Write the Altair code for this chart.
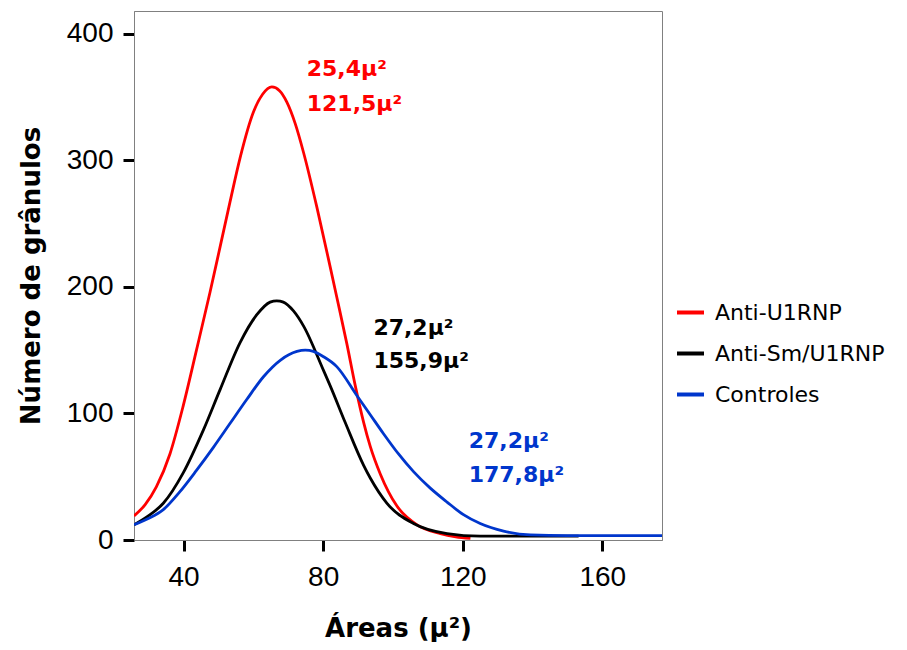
import altair as alt
import pandas as pd

series_names = ["Anti-U1RNP", "Anti-Sm/U1RNP", "Controles"]
series_colors = ["#ff0000", "#000000", "#0036cc"]

red_x = [25.8, 29.0, 32.2, 36.1, 39.9, 43.7, 47.6, 50.5, 53.3, 56.2, 60.0, 62.6, 65.3, 67.5, 69.6,
         72.0, 74.4, 78.2, 82.0, 83.9, 86.8, 89.2, 91.6, 93.5, 96.4, 101.1, 106.9, 113.6, 118.0, 122.2]
red_y = [19, 28, 42, 68, 106, 150, 196, 232, 267, 302, 338, 352, 358, 355, 346,
         329, 306, 263, 216, 192, 155, 122, 93, 74, 52, 27, 12, 5, 2.5, 1.3]

black_x = [25.8, 29.9, 34.2, 39.9, 45.7, 50.5, 56.2, 61.0, 64.8, 66.7, 68.6, 71.5, 74.4, 80.1, 82.0,
           86.3, 91.6, 93.5, 98.3, 105.9, 115.5, 125.0, 135.0, 145.0, 153.2]
black_y = [12, 19, 29, 53, 87, 119, 156, 178, 188, 189, 188, 181, 169, 134, 122,
           93, 59, 49, 29, 13, 5, 3, 3, 3, 3]

blue_x = [25.8, 29.9, 34.2, 38.9, 43.7, 48.5, 53.3, 58.1, 62.9, 67.7, 72.5, 74.9, 77.2, 80.0, 83.9,
          89.7, 93.5, 97.3, 101.6, 105.9, 110.7, 115.5, 120.2, 125.0, 131.7, 139.4, 150.0, 160.0, 170.0, 177.1]
blue_y = [12, 17, 24, 38, 55, 73, 92, 111, 129, 142, 149, 150, 149, 145, 137,
          114, 99, 84, 68, 54, 41, 30, 20, 13, 7, 4, 3.5, 3.5, 3.5, 3.5]

ann_text = ["25,4μ²", "121,5μ²", "27,2μ²", "155,9μ²", "27,2μ²", "177,8μ²"]
ann_x = [75.3, 75.3, 94.4, 94.4, 121.7, 121.7]
ann_y = [366.5, 338.8, 162.2, 135.8, 72.5, 46.1]
ann_series = ["Anti-U1RNP", "Anti-U1RNP", "Anti-Sm/U1RNP", "Anti-Sm/U1RNP", "Controles", "Controles"]

x_ticks = [40, 80, 120, 160]
y_ticks = [0, 100, 200, 300, 400]
x_domain = [25.8, 177.1]
y_domain = [0, 418]

rows = []
for name, xs, ys in zip(series_names, [red_x, black_x, blue_x], [red_y, black_y, blue_y]):
    for i, (xv, yv) in enumerate(zip(xs, ys)):
        rows.append({"serie": name, "area": xv, "n": yv, "ord": i})
df = pd.DataFrame(rows)
ann = pd.DataFrame({"t": ann_text, "x": ann_x, "y": ann_y, "serie": ann_series})

color_scale = alt.Scale(domain=series_names, range=series_colors)
x_scale = alt.Scale(domain=x_domain, nice=False, zero=False)
y_scale = alt.Scale(domain=y_domain, nice=False)

x_axis = alt.Axis(values=x_ticks, tickSize=11, tickWidth=3, tickColor="black",
                  domainColor="#808080", domainWidth=1, grid=False,
                  labelFont="Liberation Sans", labelFontSize=28, labelColor="black",
                  labelPadding=12, labelFlush=False,
                  title="Áreas (μ²)", titleFont="DejaVu Sans", titleFontSize=26,
                  titleFontWeight="bold", titleColor="black", titlePadding=24)
y_axis = alt.Axis(values=y_ticks, tickSize=11, tickWidth=3, tickColor="black",
                  domainColor="#808080", domainWidth=1, grid=False,
                  labelFont="Liberation Sans", labelFontSize=28, labelColor="black",
                  labelPadding=10, labelFlush=False,
                  title="Número de grânulos", titleFont="DejaVu Sans", titleFontSize=26,
                  titleFontWeight="bold", titleColor="black", titlePadding=22)

lines = alt.Chart(df).mark_line(strokeWidth=2.8, interpolate="monotone", clip=True).encode(
    x=alt.X("area:Q", scale=x_scale, axis=x_axis),
    y=alt.Y("n:Q", scale=y_scale, axis=y_axis),
    color=alt.Color("serie:N", scale=color_scale, sort=series_names,
                    legend=alt.Legend(title=None, orient="none", legendX=541, legendY=286,
                                      symbolType="stroke", symbolSize=729, symbolStrokeWidth=4,
                                      labelFont="DejaVu Sans", labelFontSize=22, labelColor="black",
                                      labelOffset=9, labelLimit=0, rowPadding=14, padding=0)),
    order="ord:Q",
)

texts = alt.Chart(ann).mark_text(align="left", baseline="alphabetic", font="DejaVu Sans",
                                 fontSize=22, fontWeight="bold").encode(
    x=alt.X("x:Q", scale=x_scale),
    y=alt.Y("y:Q", scale=y_scale),
    text="t:N",
    color=alt.Color("serie:N", scale=color_scale, legend=None),
)

chart = alt.layer(lines, texts).properties(
    width=528, height=529,
    autosize=alt.AutoSizeParams(type="none"),
    padding={"left": 126, "top": 3, "right": 237, "bottom": 102},
).configure_view(stroke="#808080", strokeWidth=1)

chart.save("out.html", embed_options={"renderer": "svg", "actions": False})
